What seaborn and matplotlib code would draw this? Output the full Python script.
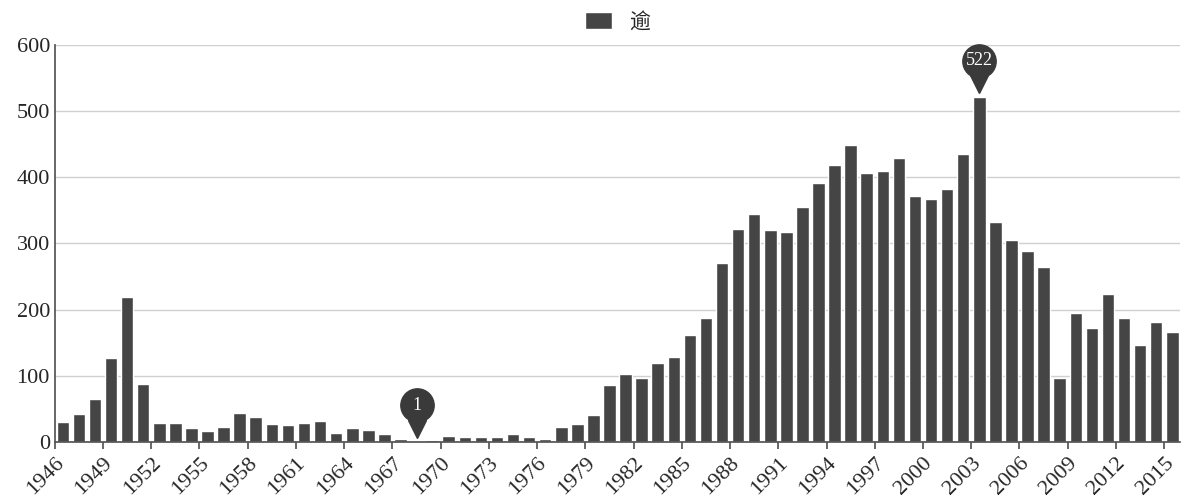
import matplotlib.pyplot as plt
import matplotlib.transforms as mtransforms
import pandas as pd
import seaborn as sns

years = list(range(1946, 2016))
counts = [30, 42, 65, 127, 219, 88, 29, 29, 21, 16,
          22, 44, 38, 27, 26, 29, 31, 14, 21, 18,
          12, 5, 1, 3, 9, 8, 7, 7, 12, 8,
          5, 22, 27, 41, 86, 103, 96, 120, 129, 161,
          188, 270, 322, 345, 320, 317, 355, 391, 418, 449,
          407, 410, 429, 372, 368, 382, 436, 522, 333, 306,
          289, 264, 96, 195, 172, 223, 188, 147, 181, 166]
series_name = "逾"

sns.set_theme(style="white")
plt.rcParams["font.family"] = ["Liberation Serif", "Noto Sans CJK SC"]

df = pd.DataFrame({"year": [str(y) for y in years], "count": counts})
bar_color = "#454545"

fig, ax = plt.subplots(figsize=(11.91, 5.01), dpi=100)
fig.subplots_adjust(left=0.046, right=0.991, top=0.91, bottom=0.118)
sns.barplot(data=df, x="year", y="count", color=bar_color, width=0.78,
            saturation=1, ax=ax, label=series_name)

ax.set_xlim(-0.5, len(years) - 0.5)
ax.set_ylim(0, 600)
ax.set_yticks(range(0, 601, 100))
ax.yaxis.grid(True, color="#d0d0d0", linewidth=1)
ax.set_axisbelow(True)
ax.set_xlabel("")
ax.set_ylabel("")

tick_idx = list(range(0, len(years), 3))
ax.set_xticks([i - 0.5 for i in tick_idx])
ax.set_xticklabels([str(years[i]) for i in tick_idx], rotation=45, ha="right",
                   rotation_mode="anchor", fontsize=16)
ax.tick_params(axis="x", length=5, color="#555555", direction="out", bottom=True)
ax.tick_params(axis="y", labelsize=16, length=0)
for s in ["top", "right"]:
    ax.spines[s].set_visible(False)
for s in ["left", "bottom"]:
    ax.spines[s].set_color("#555555")

# pins at min and max
for i in [counts.index(min(counts)), counts.index(max(counts))]:
    circ = mtransforms.offset_copy(ax.transData, fig=fig, x=0, y=26, units="points")
    tri = mtransforms.offset_copy(ax.transData, fig=fig, x=0, y=9, units="points")
    ax.plot(i, counts[i], marker="v", markersize=13, color="#3a3a3a", transform=tri, clip_on=False)
    ax.plot(i, counts[i], marker="o", markersize=24, color="#3a3a3a", transform=circ, clip_on=False)
    ax.text(i, counts[i], str(counts[i]), color="white", fontsize=13, ha="center",
            va="center", transform=circ, clip_on=False)

leg = ax.legend(loc="lower center", bbox_to_anchor=(0.5, 1.0), frameon=False,
                handlelength=1.3, handleheight=0.9, fontsize=15, borderaxespad=0.2)
for t in leg.get_texts():
    t.set_family(["Noto Sans CJK SC"])

fig.savefig("out.png", dpi=100)
